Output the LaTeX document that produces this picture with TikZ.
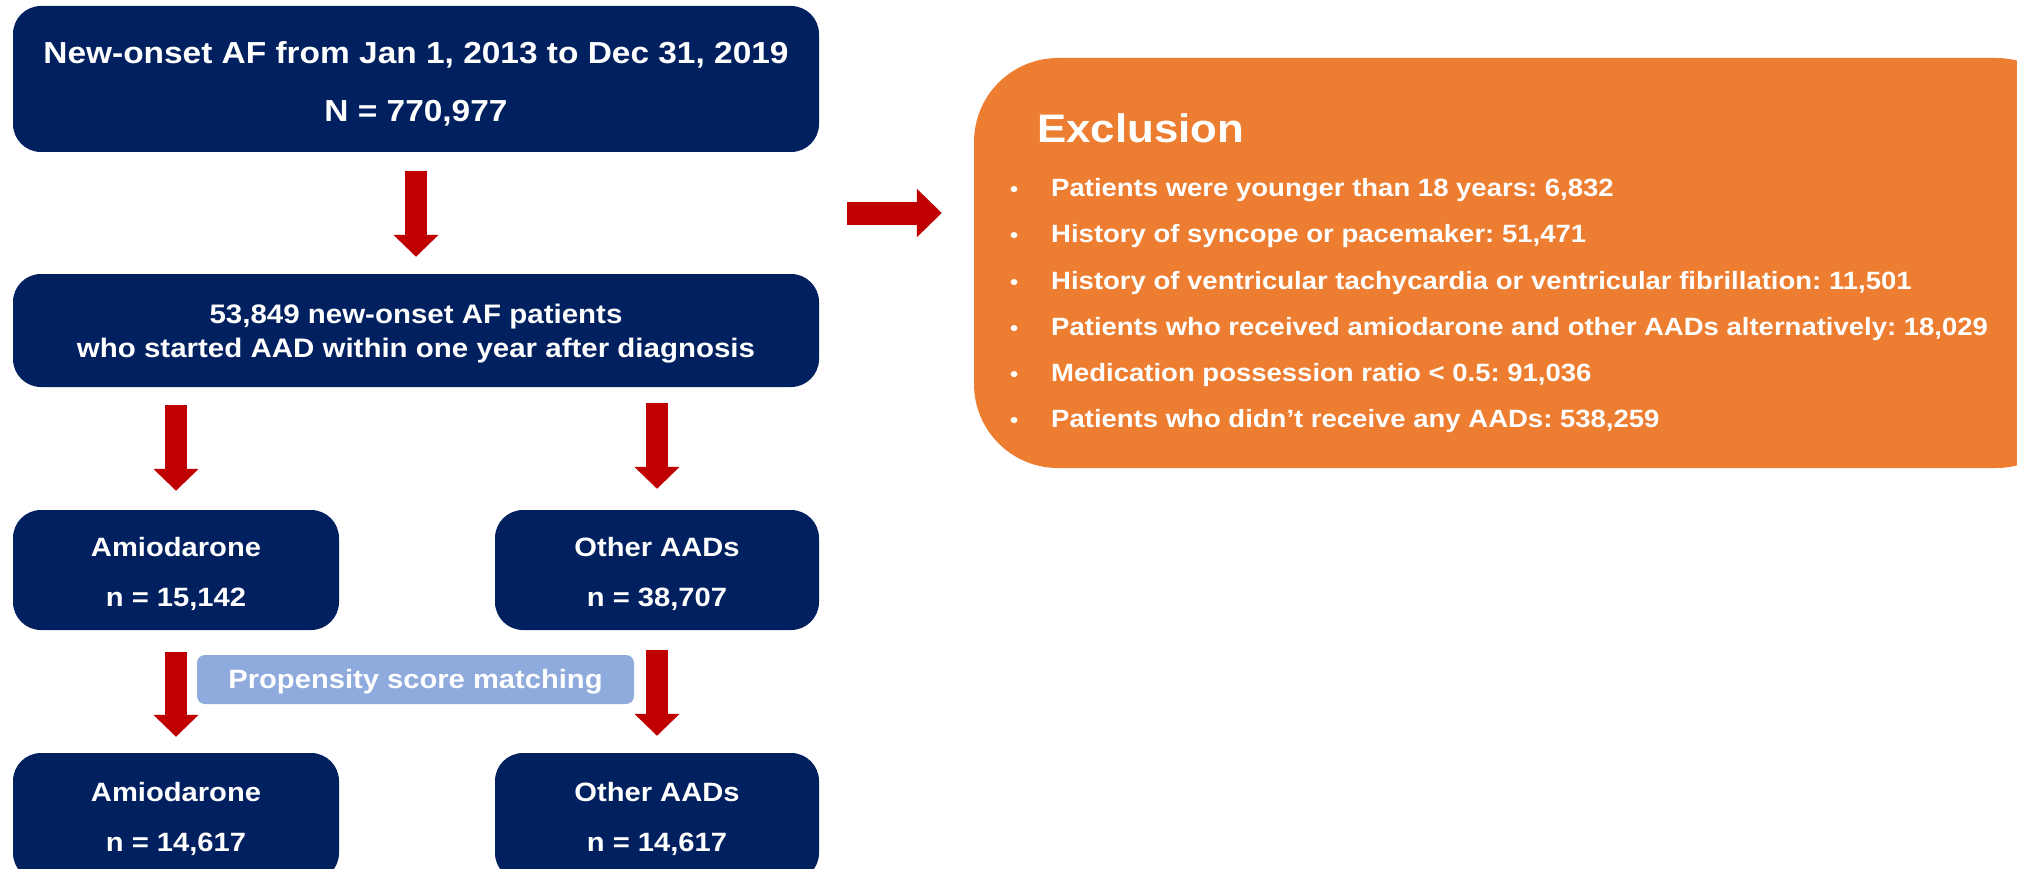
\documentclass[tikz,border=0pt]{standalone}
\usepackage{fontspec}
\setmainfont{Liberation Sans}[FakeStretch=1.1]
\usetikzlibrary{arrows.meta}
\definecolor{navy}{HTML}{002060}
\definecolor{arrowred}{HTML}{C00000}
\definecolor{orangebox}{HTML}{ED7D31}
\definecolor{psmblue}{HTML}{8FAADC}
\frenchspacing
\begin{document}
\begin{tikzpicture}[x=1pt,y=-1pt,
  navybox/.style={fill=navy, rounded corners=28pt, inner sep=0pt},
  txt/.style={inner sep=0pt, text=white, text height={0.716*#1 pt}, text depth=0pt, font=\fontsize{#1}{#1}\selectfont\bfseries},
  bigarrow/.style={draw=arrowred, line width=22pt, -{Triangle[width=44pt,length=22pt]}},
  bul/.style={anchor=west, inner sep=0pt, text=white, text height=17pt, text depth=0pt, font=\fontsize{21}{26}\selectfont\bfseries},
  itm/.style={anchor=west, inner sep=0pt, text=white, text height=17.9pt, text depth=0pt, font=\fontsize{25}{30}\selectfont\bfseries}]
\useasboundingbox (0,0) rectangle (2017,869);
\fill[white] (0,0) rectangle (2017,869);

% flow boxes
\node[navybox, minimum width=806pt, minimum height=146pt] (src) at (416,79) {};
\node[txt=30.4] (srcA) at (416,53) {New-onset AF from Jan 1, 2013 to Dec 31, 2019};
\node[txt=30.4] (srcB) at (416,111) {N = 770,977};

\node[navybox, minimum width=806pt, minimum height=113pt] (mid) at (416,330.5) {};
\node[txt=26.8] (midA) at (416,314) {53,849 new-onset AF patients};
\node[txt=26.8] (midB) at (416,348) {who started AAD within one year after diagnosis};

\node[navybox, minimum width=326pt, minimum height=120pt] (am) at (176,570) {};
\node[txt=26.5] (amA) at (176,547) {Amiodarone};
\node[txt=26.5] (amB) at (176,597) {n = 15,142};

\node[navybox, minimum width=324pt, minimum height=120pt] (oth) at (657,570) {};
\node[txt=26.5] (othA) at (657,547) {Other AADs};
\node[txt=26.5] (othB) at (657,597) {n = 38,707};

\node[navybox, minimum width=326pt, minimum height=128pt] (am2) at (176,817) {};
\node[txt=26.5] (am2A) at (176,792) {Amiodarone};
\node[txt=26.5] (am2B) at (176,842) {n = 14,617};

\node[navybox, minimum width=324pt, minimum height=128pt] (oth2) at (657,817) {};
\node[txt=26.5] (oth2A) at (657,792) {Other AADs};
\node[txt=26.5] (oth2B) at (657,842) {n = 14,617};

\node[fill=psmblue, rounded corners=8pt, inner sep=0pt, minimum width=437pt, minimum height=49pt] (psm) at (415.5,679.5) {};
\node[txt=26.5] (psmT) at (415.5,679.5) {Propensity score matching};

% exclusion box
\node[fill=orangebox, rounded corners=84pt, inner sep=0pt, minimum width=1106pt, minimum height=410pt] (excl) at (1527,263) {};
\node[anchor=west, inner sep=0pt, text=white, font=\fontsize{39.8}{48}\selectfont\bfseries] (ttl) at (1037,128) {Exclusion};
\node[bul] (b1) at (1010,188) {•};
\node[itm] (i1) at (1051,188) {Patients were younger than 18 years: 6,832};
\node[bul] (b2) at (1010,234) {•};
\node[itm] (i2) at (1051,234) {History of syncope or pacemaker: 51,471};
\node[bul] (b3) at (1010,280.5) {•};
\node[itm] (i3) at (1051,280.5) {History of ventricular tachycardia or ventricular fibrillation: 11,501};
\node[bul] (b4) at (1010,326.5) {•};
\node[itm] (i4) at (1051,326.5) {Patients who received amiodarone and other AADs alternatively: 18,029};
\node[bul] (b5) at (1010,373) {•};
\node[itm] (i5) at (1051,373) {Medication possession ratio < 0.5: 91,036};
\node[bul] (b6) at (1010,419) {•};
\node[itm] (i6) at (1051,419) {Patients who didn’t receive any AADs: 538,259};

% arrows
\draw[bigarrow, shorten <=19pt, shorten >=17pt] (src.south) -- (mid.north);
\draw[bigarrow, shorten <=18pt, shorten >=19pt] (mid.south -| am.north) -- (am.north);
\draw[bigarrow, shorten <=16pt, shorten >=21pt] (mid.south -| oth.north) -- (oth.north);
\draw[bigarrow, shorten <=22pt, shorten >=16pt] (am.south) -- (am2.north);
\draw[bigarrow, shorten <=20pt, shorten >=17pt] (oth.south) -- (oth2.north);
\coordinate (xs) at (847,213);
\draw[draw=arrowred, line width=23pt, -{Triangle[width=47pt,length=25pt]}, shorten >=32pt] (xs) -- (excl.west |- xs);
\end{tikzpicture}
\end{document}
